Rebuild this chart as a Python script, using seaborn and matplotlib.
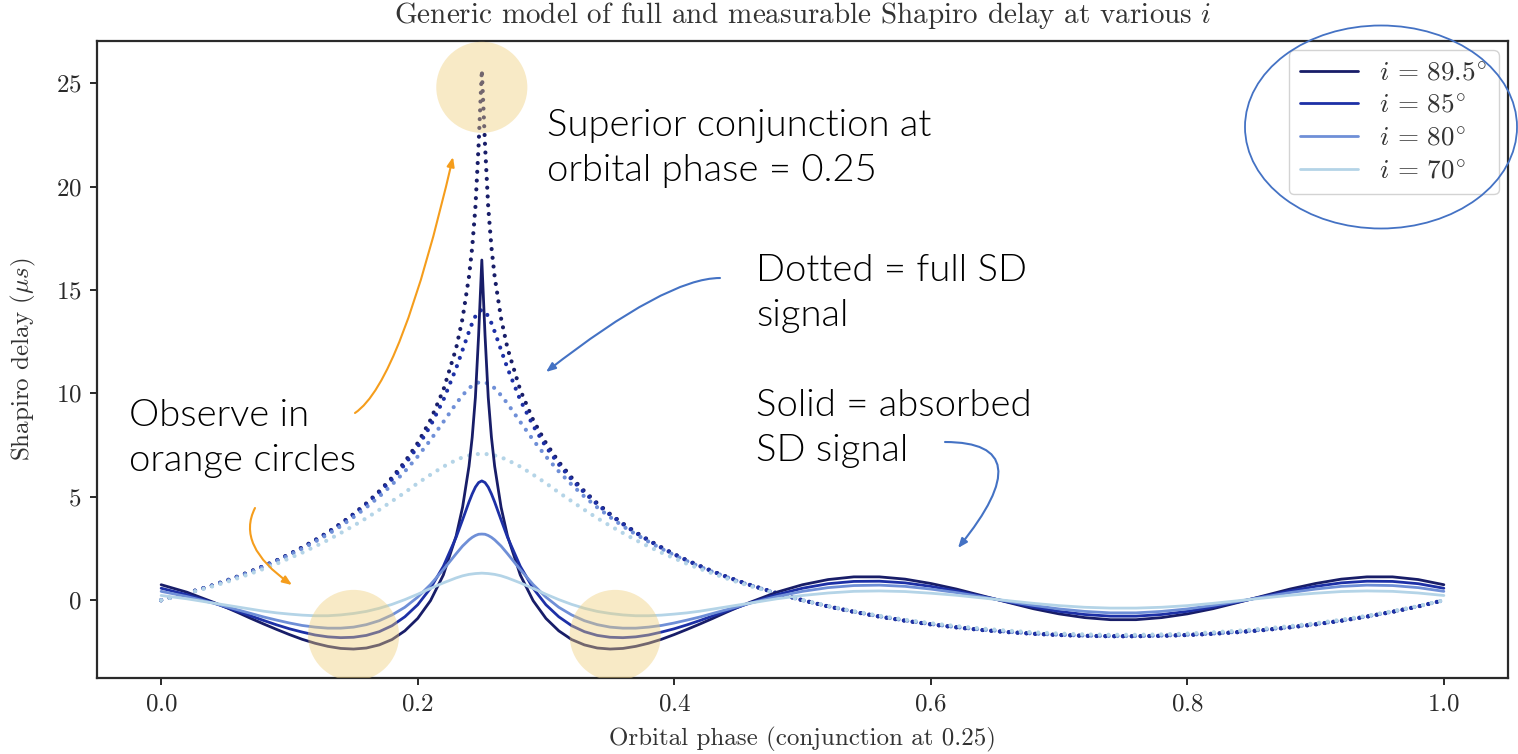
import matplotlib
matplotlib.use("Agg")
import matplotlib.pyplot as plt
from matplotlib.patches import Ellipse
import seaborn as sns

# Orbital phase samples (denser around superior conjunction at 0.25)
phase = [0.00, 0.02, 0.04, 0.05, 0.06, 0.07, 0.08, 0.09, 0.10, 0.11, 0.12, 0.13,
         0.14, 0.15, 0.16, 0.17, 0.18, 0.19, 0.20, 0.21, 0.22, 0.23, 0.235,
         0.24, 0.2425, 0.245, 0.2475, 0.25,
         0.2525, 0.255, 0.2575, 0.26, 0.265, 0.27, 0.28, 0.29, 0.30, 0.31,
         0.32, 0.33, 0.34, 0.35, 0.36, 0.37, 0.38, 0.39, 0.40, 0.41, 0.42,
         0.43, 0.44, 0.45, 0.46, 0.48, 0.50,
         0.52, 0.54, 0.56, 0.58, 0.60, 0.62, 0.64, 0.66, 0.68, 0.70, 0.72,
         0.74, 0.76, 0.78, 0.80, 0.82, 0.84, 0.86, 0.88, 0.90, 0.92, 0.94,
         0.96, 0.98, 1.00]

# Full Shapiro delay (microseconds)
full_895 = [0.00, 0.34, 0.72, 0.93, 1.16, 1.40, 1.66, 1.93, 2.23, 2.56, 2.91, 3.29,
            3.71, 4.17, 4.69, 5.27, 5.93, 6.69, 7.60, 8.72, 10.16, 12.19, 13.63,
            15.65, 17.06, 19.00, 22.01, 25.64,
            22.01, 19.00, 17.06, 15.65, 13.63, 12.19, 10.16, 8.72, 7.60, 6.69,
            5.93, 5.27, 4.69, 4.17, 3.71, 3.29, 2.91, 2.56, 2.23, 1.93, 1.66,
            1.40, 1.16, 0.93, 0.72, 0.34, 0.00,
            -0.30, -0.56, -0.79, -0.99, -1.17, -1.31, -1.44, -1.54, -1.62, -1.68,
            -1.72, -1.74, -1.74, -1.72, -1.68, -1.62, -1.54, -1.44, -1.31, -1.17,
            -0.99, -0.79, -0.56, -0.30, 0.00]
full_85 = [0.00, 0.34, 0.72, 0.93, 1.15, 1.39, 1.65, 1.92, 2.22, 2.54, 2.89, 3.26,
           3.68, 4.13, 4.64, 5.20, 5.84, 6.57, 7.42, 8.44, 9.68, 11.22, 12.10,
           12.99, 13.40, 13.73, 13.96, 14.04,
           13.96, 13.73, 13.40, 12.99, 12.10, 11.22, 9.68, 8.44, 7.42, 6.57,
           5.84, 5.20, 4.64, 4.13, 3.68, 3.26, 2.89, 2.54, 2.22, 1.92, 1.65,
           1.39, 1.15, 0.93, 0.72, 0.34, 0.00,
           -0.30, -0.56, -0.79, -0.99, -1.16, -1.31, -1.44, -1.54, -1.62, -1.68,
           -1.72, -1.74, -1.74, -1.72, -1.68, -1.62, -1.54, -1.44, -1.31, -1.16,
           -0.99, -0.79, -0.56, -0.30, 0.00]
full_80 = [0.00, 0.33, 0.71, 0.91, 1.14, 1.37, 1.62, 1.89, 2.18, 2.49, 2.83, 3.19,
           3.58, 4.02, 4.49, 5.01, 5.59, 6.23, 6.95, 7.75, 8.62, 9.51, 9.91,
           10.25, 10.38, 10.47, 10.53, 10.55,
           10.53, 10.47, 10.38, 10.25, 9.91, 9.51, 8.62, 7.75, 6.95, 6.23,
           5.59, 5.01, 4.49, 4.02, 3.58, 3.19, 2.83, 2.49, 2.18, 1.89, 1.62,
           1.37, 1.14, 0.91, 0.71, 0.33, 0.00,
           -0.29, -0.55, -0.78, -0.98, -1.15, -1.30, -1.42, -1.52, -1.61, -1.67,
           -1.71, -1.73, -1.73, -1.71, -1.67, -1.61, -1.52, -1.42, -1.30, -1.15,
           -0.98, -0.78, -0.55, -0.29, 0.00]
full_70 = [0.00, 0.32, 0.67, 0.86, 1.07, 1.29, 1.52, 1.76, 2.03, 2.30, 2.60, 2.91,
           3.25, 3.60, 3.97, 4.37, 4.79, 5.21, 5.66, 6.07, 6.46, 6.78, 6.91,
           7.00, 7.03, 7.06, 7.07, 7.08,
           7.07, 7.06, 7.03, 7.00, 6.91, 6.78, 6.46, 6.07, 5.66, 5.21,
           4.79, 4.37, 3.97, 3.60, 3.25, 2.91, 2.60, 2.30, 2.03, 1.76, 1.52,
           1.29, 1.07, 0.86, 0.67, 0.32, 0.00,
           -0.28, -0.53, -0.75, -0.94, -1.11, -1.25, -1.37, -1.47, -1.55, -1.61,
           -1.65, -1.67, -1.67, -1.65, -1.61, -1.55, -1.47, -1.37, -1.25, -1.11,
           -0.94, -0.75, -0.53, -0.28, 0.00]

# Measurable Shapiro delay left after the orbital fit absorbs the low harmonics
meas_895 = [0.75, 0.39, -0.08, -0.33, -0.60, -0.88, -1.15, -1.41, -1.66, -1.89,
            -2.08, -2.23, -2.33, -2.36, -2.31, -2.16, -1.90, -1.48, -0.88, -0.02,
            1.22, 3.11, 4.50, 6.48, 7.88, 9.81, 12.81, 16.45,
            12.81, 9.81, 7.88, 6.48, 4.50, 3.11, 1.22, -0.02, -0.88, -1.48,
            -1.90, -2.16, -2.31, -2.36, -2.33, -2.23, -2.08, -1.89, -1.66, -1.41,
            -1.15, -0.88, -0.60, -0.33, -0.08, 0.39, 0.75,
            1.00, 1.13, 1.13, 1.02, 0.81, 0.54, 0.22, -0.10, -0.41, -0.66,
            -0.84, -0.94, -0.94, -0.84, -0.66, -0.41, -0.10, 0.22, 0.54, 0.81,
            1.02, 1.13, 1.13, 1.00, 0.75]
meas_85 = [0.58, 0.27, -0.11, -0.33, -0.54, -0.76, -0.98, -1.19, -1.38, -1.54,
           -1.68, -1.77, -1.81, -1.79, -1.70, -1.52, -1.23, -0.80, -0.22, 0.58,
           1.64, 3.05, 3.89, 4.75, 5.14, 5.47, 5.69, 5.77,
           5.69, 5.47, 5.14, 4.75, 3.89, 3.05, 1.64, 0.58, -0.22, -0.80,
           -1.23, -1.52, -1.70, -1.79, -1.81, -1.77, -1.68, -1.54, -1.38, -1.19,
           -0.98, -0.76, -0.54, -0.33, -0.11, 0.27, 0.58,
           0.80, 0.91, 0.92, 0.84, 0.67, 0.45, 0.19, -0.08, -0.33, -0.54,
           -0.69, -0.77, -0.77, -0.69, -0.54, -0.33, -0.08, 0.19, 0.45, 0.67,
           0.84, 0.92, 0.91, 0.80, 0.58]
meas_80 = [0.43, 0.18, -0.13, -0.30, -0.47, -0.64, -0.81, -0.96, -1.10, -1.22,
           -1.30, -1.35, -1.35, -1.30, -1.18, -0.99, -0.71, -0.34, 0.15, 0.76,
           1.48, 2.25, 2.62, 2.92, 3.04, 3.13, 3.19, 3.20,
           3.19, 3.13, 3.04, 2.92, 2.62, 2.25, 1.48, 0.76, 0.15, -0.34,
           -0.71, -0.99, -1.18, -1.30, -1.35, -1.35, -1.30, -1.22, -1.10, -0.96,
           -0.81, -0.64, -0.47, -0.30, -0.13, 0.18, 0.43,
           0.61, 0.71, 0.73, 0.67, 0.54, 0.37, 0.16, -0.05, -0.25, -0.42,
           -0.54, -0.61, -0.61, -0.54, -0.42, -0.25, -0.05, 0.16, 0.37, 0.54,
           0.67, 0.73, 0.71, 0.61, 0.43]
meas_70 = [0.23, 0.07, -0.13, -0.23, -0.33, -0.43, -0.53, -0.61, -0.67, -0.72,
           -0.75, -0.75, -0.71, -0.64, -0.54, -0.39, -0.20, 0.03, 0.29, 0.57,
           0.84, 1.08, 1.18, 1.25, 1.27, 1.29, 1.30, 1.31,
           1.30, 1.29, 1.27, 1.25, 1.18, 1.08, 0.84, 0.57, 0.29, 0.03,
           -0.20, -0.39, -0.54, -0.64, -0.71, -0.75, -0.75, -0.72, -0.67, -0.61,
           -0.53, -0.43, -0.33, -0.23, -0.13, 0.07, 0.23,
           0.35, 0.43, 0.45, 0.42, 0.34, 0.24, 0.11, -0.02, -0.15, -0.26,
           -0.34, -0.38, -0.38, -0.34, -0.26, -0.15, -0.02, 0.11, 0.24, 0.34,
           0.42, 0.45, 0.43, 0.35, 0.23]

inclinations = ["89.5", "85", "80", "70"]
colors = ["#181d68", "#1d30a6", "#6f8fd7", "#b4d4e7"]

# Regions of interest highlighted with soft circles (phase, delay)
spot_phase = [0.25, 0.15, 0.354]
spot_delay = [24.8, -1.7, -1.7]

sns.set_style("ticks")
plt.rcParams.update({
    "font.family": "serif",
    "font.serif": ["cmr10"],
    "mathtext.fontset": "cm",
    "axes.formatter.use_mathtext": True,
    "axes.unicode_minus": False,
    "axes.edgecolor": "#2a2a2a",
    "axes.linewidth": 1.6,
    "xtick.color": "#2a2a2a",
    "ytick.color": "#2a2a2a",
    "xtick.major.size": 5,
    "ytick.major.size": 5,
    "xtick.major.width": 1.4,
    "ytick.major.width": 1.4,
    "text.color": "#333333",
    "axes.labelcolor": "#333333",
})

W, H = 1518, 754
fig = plt.figure(figsize=(W / 100, H / 100), dpi=100)
ax = fig.add_axes([97 / W, 1 - 678 / H, (1508 - 97) / W, (678 - 41) / H])

full_sets = [full_895, full_85, full_80, full_70]
meas_sets = [meas_895, meas_85, meas_80, meas_70]

for col, full in zip(colors, full_sets):
    sns.lineplot(x=phase, y=full, ax=ax, color=col, lw=3.0,
                 linestyle=(0, (0.01, 2.1)), dash_capstyle="round",
                 estimator=None, legend=False)

handles = []
for inc, col, meas in zip(inclinations, colors, meas_sets):
    sns.lineplot(x=phase, y=meas, ax=ax, color=col, lw=2.0,
                 estimator=None, legend=False)
    handles.append(ax.lines[-1])

ax.scatter(spot_phase, spot_delay, s=4300, color="#efcd78", alpha=0.42,
           edgecolors="none", zorder=5)

ax.set_xticks([0.0, 0.2, 0.4, 0.6, 0.8, 1.0])
ax.set_yticks([0, 5, 10, 15, 20, 25])
ax.tick_params(labelsize=18, pad=6)
ax.set_xlabel("Orbital phase (conjunction at 0.25)", fontsize=18, labelpad=8)
ax.set_ylabel(r"Shapiro delay ($\mu s$)", fontsize=18, labelpad=13)
ax.set_title(r"Generic model of full and measurable Shapiro delay at various $i$",
             fontsize=21, pad=13)

leg = ax.legend(handles, [rf"$i\,=\,{inc}^{{\!\circ}}$" for inc in inclinations],
                loc="upper right", fontsize=19.5, handlelength=2.15,
                handletextpad=0.8, labelspacing=0.32, borderpad=0.4,
                borderaxespad=0.35, frameon=True, fancybox=True,
                framealpha=0.85, edgecolor="#cccccc")

# Call-out ring around the legend
fig.add_artist(Ellipse((1381 / W, 1 - 127 / H), 272 / W, 203 / H,
                       transform=fig.transFigure, fill=False,
                       edgecolor="#4472c4", lw=1.3, clip_on=False))

note_font = {"family": "Lato", "size": 27.5, "weight": 300, "color": "#000000"}
notes = [
    ((547, 109), "Superior conjunction at\norbital phase = 0.25"),
    ((756, 254), "Dotted = full SD\nsignal"),
    ((756, 389), "Solid = absorbed\nSD signal"),
    ((129, 399), "Observe in\norange circles"),
]
for (tx, ty), txt in notes:
    fig.text(tx / W, 1 - ty / H, txt, va="top", ha="left",
             linespacing=1.42, fontdict=note_font)

orange = "#f59d1c"
blue = "#4472c4"
arrows = [
    ((355, 413), (453, 157), orange, "angle3,angleA=34,angleB=77"),
    ((255, 508), (292, 585), orange, "angle3,angleA=63,angleB=145"),
    ((720, 278), (546, 372), blue, "angle3,angleA=0,angleB=38"),
    ((945, 442), (958, 548), blue, "angle3,angleA=0,angleB=51"),
]
for (x0, y0), (x1, y1), col, conn in arrows:
    ax.annotate("", xy=(x1, H - y1), xytext=(x0, H - y0),
                xycoords="figure pixels", textcoords="figure pixels",
                annotation_clip=False,
                arrowprops=dict(arrowstyle="-|>,head_length=0.55,head_width=0.22",
                                color=col, lw=1.5, shrinkA=0, shrinkB=0,
                                connectionstyle=conn))

fig.savefig("out.png", dpi=100)
